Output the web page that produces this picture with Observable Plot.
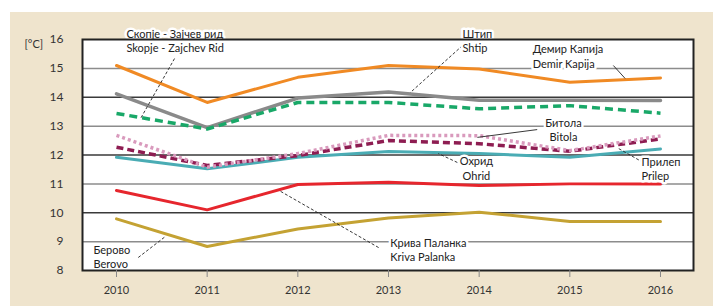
<!DOCTYPE html>
<html>
<head>
<meta charset="utf-8">
<script src="https://cdn.jsdelivr.net/npm/d3@7"></script>
<script src="https://cdn.jsdelivr.net/npm/@observablehq/plot@0.6"></script>
<style>
  html, body { margin: 0; padding: 0; background: #ffffff; width: 713px; height: 306px; overflow: hidden; }
  #chart { position: absolute; left: 10px; top: 12px; }
</style>
</head>
<body>
<div id="chart"></div>
<script>
// ---- data ----
const years = [2010, 2011, 2012, 2013, 2014, 2015, 2016];
const demirKapija  = [15.1, 13.82, 14.69, 15.1, 14.98, 14.52, 14.67];
const shtip        = [14.12, 12.95, 13.97, 14.18, 13.9, 13.9, 13.89];
const skopje       = [13.44, 12.9, 13.82, 13.82, 13.6, 13.71, 13.45];
const bitola       = [12.68, 11.58, 12.05, 12.68, 12.67, 12.15, 12.66];
const prilep       = [12.27, 11.64, 11.98, 12.5, 12.39, 12.13, 12.56];
const ohrid        = [11.92, 11.52, 11.92, 12.12, 12.05, 11.92, 12.21];
const krivaPalanka = [10.77, 10.1, 10.98, 11.06, 10.94, 11.0, 11.0];
const berovo       = [9.79, 8.83, 9.44, 9.82, 10.02, 9.7, 9.7];

const yTicks = [8, 9, 10, 11, 12, 13, 14, 15, 16];
const yUnit = "[°C]";

// annotation labels (data coordinates)
const labelText = [
  "Скопје - Зајчев рид\nSkopje - Zajchev Rid",
  "Штип\nShtip",
  "Демир Капија\nDemir Kapija",
  "Битола\nBitola",
  "Охрид\nOhrid",
  "Прилеп\nPrilep",
  "Крива Паланка\nKriva Palanka",
  "Берово\nBerovo"
];
const labelX = [2010.11, 2013.816, 2014.59, 2014.93, 2013.97, 2015.79, 2013.02, 2009.746];
const labelY = [15.98, 15.98, 15.43, 12.88, 11.55, 11.53, 8.74, 8.50];
const labelAnchor = ["start", "start", "start", "middle", "middle", "start", "start", "start"];
// leader lines (data coordinates)
const leadX1 = [2010.64, 2013.816, 2015.48, 2014.64, 2013.76, 2015.54, 2011.81, 2010.24];
const leadY1 = [15.34, 15.79, 15.10, 12.88, 11.74, 12.22, 10.74, 8.45];
const leadX2 = [2010.265, 2013.24, 2015.61, 2013.98, 2013.55, 2015.81, 2012.91, 2010.54];
const leadY2 = [13.26, 14.16, 14.65, 12.61, 12.05, 11.74, 8.76, 9.18];
const leadDashed = [true, true, false, false, true, true, true, true];

// ---- build tables ----
const series = [
  {name: "Ohrid", values: ohrid, color: "#4aacb4", dash: null, w: 3},
  {name: "Prilep", values: prilep, color: "#8e1d52", dash: "7,4", w: 3.5},
  {name: "Bitola", values: bitola, color: "#d99abd", dash: "3,3", w: 3.5},
  {name: "Kriva Palanka", values: krivaPalanka, color: "#e6262d", dash: null, w: 3},
  {name: "Berovo", values: berovo, color: "#c4a233", dash: null, w: 3},
  {name: "Shtip", values: shtip, color: "#8a8a8a", dash: null, w: 3.5},
  {name: "Skopje", values: skopje, color: "#19a868", dash: "8,5", w: 3.5},
  {name: "Demir Kapija", values: demirKapija, color: "#f08a24", dash: null, w: 3}
];
const labels = labelText.map((t, i) => ({text: t, x: labelX[i], y: labelY[i], anchor: labelAnchor[i]}));
const leads = leadX1.map((x1, i) => ({x1, y1: leadY1[i], x2: leadX2[i], y2: leadY2[i], dashed: leadDashed[i]}));

const gridOdd = [9, 11, 13, 15];
const gridEven = [10, 12, 14];

const lineMarks = series.map(s => Plot.line(s.values.map((v, i) => ({year: years[i], value: v})), {
  x: "year", y: "value", stroke: s.color, strokeWidth: s.w,
  strokeDasharray: s.dash ?? undefined, curve: "linear", strokeLinejoin: "round",
  strokeLinecap: s.dash ? "butt" : "round"
}));

const chart = Plot.plot({
  width: 703,
  height: 294,
  marginLeft: 72,
  marginRight: 20,
  marginTop: 27,
  marginBottom: 36,
  style: {background: "#efe4cd", fontFamily: "Lato, 'Open Sans', sans-serif", fontSize: "11px", color: "#333"},
  x: {domain: [2009.625, 2016.364]},
  y: {domain: [8, 16]},
  marks: [
    Plot.frame({fill: "white", stroke: null}),
    Plot.ruleY(gridOdd, {stroke: "#8c8c8c", strokeWidth: 1.5}),
    Plot.ruleY(gridEven, {stroke: "#3a3a3a", strokeWidth: 1.5}),
    ...lineMarks,
    Plot.link(leads.filter(d => d.dashed), {x1: "x1", y1: "y1", x2: "x2", y2: "y2", stroke: "#222", strokeWidth: 0.9, strokeDasharray: "3,2"}),
    Plot.link(leads.filter(d => !d.dashed), {x1: "x1", y1: "y1", x2: "x2", y2: "y2", stroke: "#222", strokeWidth: 0.9}),
    Plot.text(labels.filter(d => d.anchor === "start"), {x: "x", y: "y", text: "text", textAnchor: "start", lineHeight: 1.3, fill: "#222", stroke: "white", strokeWidth: 5, fontSize: 11}),
    Plot.text(labels.filter(d => d.anchor === "middle"), {x: "x", y: "y", text: "text", textAnchor: "middle", lineHeight: 1.3, fill: "#222", stroke: "white", strokeWidth: 5, fontSize: 11}),
    Plot.frame({stroke: "#222", strokeWidth: 2}),
    Plot.axisY({ticks: yTicks, tickSize: 0, tickPadding: 19, tickFormat: d => String(d), label: null, fontSize: 12, fill: "#333"}),
    Plot.text([yUnit], {frameAnchor: "top-left", text: d => d, dx: -58, dy: 1, textAnchor: "start", fontSize: 11, fill: "#333"}),
    Plot.axisX({ticks: years, tickSize: 7, tickPadding: 9, tickFormat: d => String(d), label: null, stroke: "#888", fill: "#333", fontSize: 11})
  ]
});
document.getElementById("chart").appendChild(chart);
</script>
</body>
</html>
